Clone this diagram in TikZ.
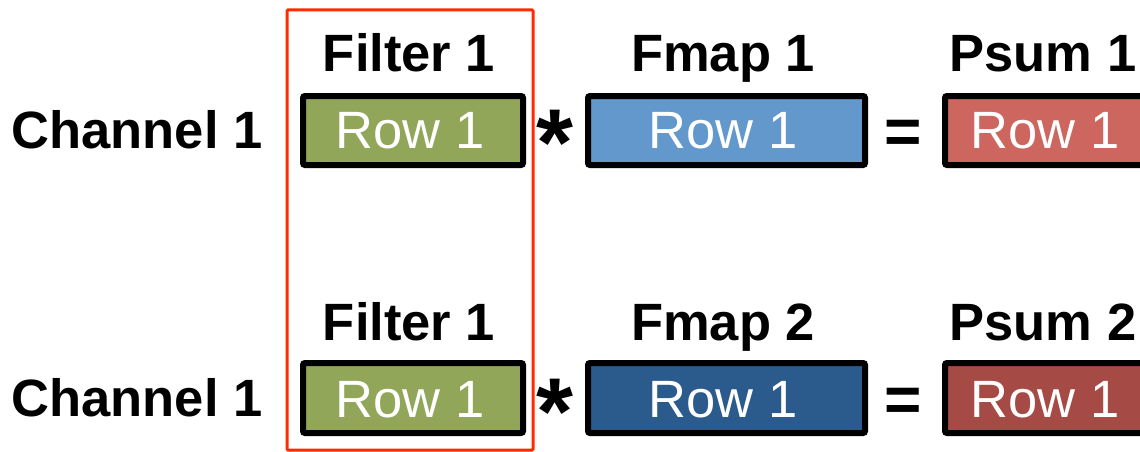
\documentclass[tikz,border=0pt]{standalone}
\usepackage{fontspec}
\setmainfont{Liberation Sans}
\definecolor{fgreen}{HTML}{92A65A}
\definecolor{fblue}{HTML}{6298CB}
\definecolor{fdblue}{HTML}{2A5B8C}
\definecolor{pred}{HTML}{CD665F}
\definecolor{pdred}{HTML}{A64A45}
\definecolor{hired}{HTML}{FF2A00}
\begin{document}
\begin{tikzpicture}[x=1pt,y=-1pt,
  rowbox/.style={draw=black,line width=6pt,rounded corners=2pt,inner sep=0pt,anchor=north west},
  rowtxt/.style={text=white,font=\fontsize{52.5}{52.5}\selectfont,anchor=base,inner sep=0pt},
  lbl/.style={font=\bfseries\fontsize{52.5}{52.5}\selectfont,anchor=base,inner sep=0pt},
  optxt/.style={font=\bfseries\fontsize{#1}{#1}\selectfont,anchor=base,inner sep=0pt}]
\useasboundingbox (0,0) rectangle (1140,452);
\begin{scope}
\clip (0,0) rectangle (1140,452);
% row 1
\node[lbl] (ch1) at (137,148) {Channel 1};
\node[lbl] (fl1) at (409,71) {Filter 1};
\node[lbl] (fm1) at (723,71) {Fmap 1};
\node[lbl] (ps1) at (1043,71) {Psum 1};
\node[rowbox,fill=fgreen,minimum width=220pt,minimum height=69pt] (fb1) at (300,93) {};
\node[rowbox,fill=fblue,minimum width=277pt,minimum height=69pt] (mb1) at (585,93) {};
\node[rowbox,fill=pred,minimum width=210pt,minimum height=69pt] (pb1) at (942,93) {};
\node[rowtxt] (ft1) at (410,148) {Row 1};
\node[rowtxt] (mt1) at (723,148) {Row 1};
\node[rowtxt] (pt1) at (1045,148) {Row 1};
\node[optxt=95] (st1) at (555,175) {*};
\node[optxt=64] (eq1) at (903,153) {=};
% row 2
\node[lbl] (ch2) at (137,416) {Channel 1};
\node[lbl] (fl2) at (409,340) {Filter 1};
\node[lbl] (fm2) at (723,340) {Fmap 2};
\node[lbl] (ps2) at (1043,340) {Psum 2};
\node[rowbox,fill=fgreen,minimum width=220pt,minimum height=70pt] (fb2) at (300,360) {};
\node[rowbox,fill=fdblue,minimum width=277pt,minimum height=70pt] (mb2) at (585,360) {};
\node[rowbox,fill=pdred,minimum width=210pt,minimum height=70pt] (pb2) at (942,360) {};
\node[rowtxt] (ft2) at (410,417) {Row 1};
\node[rowtxt] (mt2) at (723,417) {Row 1};
\node[rowtxt] (pt2) at (1045,417) {Row 1};
\node[optxt=95] (st2) at (555,444) {*};
\node[optxt=64] (eq2) at (903,421) {=};
% highlight
\draw[hired,line width=3pt,rounded corners=1pt] (287,10) rectangle (533,450);
\end{scope}
\end{tikzpicture}
\end{document}
